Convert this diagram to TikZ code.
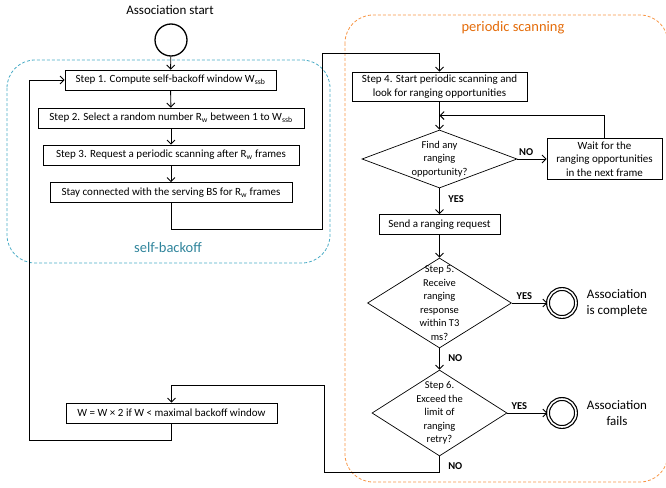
\documentclass[tikz,border=0pt]{standalone}
\usepackage{fontspec}
\setmainfont{Carlito}
\usetikzlibrary{shapes.geometric,calc,arrows.meta}
\definecolor{backoffline}{HTML}{4BACC6}
\definecolor{backofftext}{HTML}{31859C}
\definecolor{scanline}{HTML}{F79646}
\definecolor{scantext}{HTML}{E46C0A}
\begin{document}
\begin{tikzpicture}[x=1pt,y=-1pt,
	stepbox/.style={draw, fill=white, line width=0.7pt, minimum height=20pt, inner xsep=5pt, inner ysep=3pt, font=\fontsize{11}{13.5}\selectfont, align=center},
	decision/.style={draw, fill=white, diamond, line width=0.7pt, inner sep=0pt},
	dtext/.style={font=\fontsize{10.5}{13.5}\selectfont, align=center},
	arr/.style={-{Straight Barb[length=4pt,width=8pt]}, line width=0.9pt},
	lab/.style={font=\fontsize{10.5}{12}\selectfont\bfseries},
	final/.style={circle, draw, line width=1.2pt, double, double distance=1.6pt, minimum size=28pt, inner sep=0pt},
	endtext/.style={font=\fontsize{13}{16.5}\selectfont, align=center},
	region/.style={rounded corners=28pt, dash pattern=on 3pt off 2pt, line width=0.8pt}]
	\useasboundingbox (0,0) rectangle (666,487);
	\clip (0,0) rectangle (666,487);
	% regions
	\draw[region, backoffline] (7,60) rectangle (330,263);
	\node[font=\fontsize{14.5}{16}\selectfont, text=backofftext] (backofflabel) at (168,248) {self-backoff};
	\draw[region, scanline] (345,15) rectangle (668,482);
	\node[font=\fontsize{14.5}{16}\selectfont, text=scantext] (scanlabel) at (513,28) {periodic scanning};
	% start
	\node[font=\fontsize{13}{15}\selectfont] (starttext) at (170,10) {Association start};
	\node[circle, draw, line width=1.3pt, minimum size=32pt, inner sep=0pt] (start) at (171,40) {};
	% self-backoff steps
	\node[stepbox, minimum width=211pt] (s1) at (170.5,80) {Step 1. Compute self-backoff window W\textsubscript{ssb}};
	\node[stepbox, minimum width=266pt] (s2) at (171,118) {Step 2. Select a random number R\textsubscript{w} between 1 to W\textsubscript{ssb}};
	\node[stepbox, minimum width=256pt] (s3) at (171,155) {Step 3. Request a periodic scanning after R\textsubscript{w} frames};
	\node[stepbox, minimum width=242pt] (stay) at (171,192.5) {Stay connected with the serving BS for R\textsubscript{w} frames};
	\node[stepbox, minimum width=211pt] (wbox) at (171.5,413) {W = W × 2 if W < maximal backoff window};
	% periodic scanning steps
	\node[stepbox, minimum width=175pt] (s4) at (439.5,86.5) {Step 4. Start periodic scanning and\\look for ranging opportunities};
	\node[decision, minimum width=155pt, minimum height=58pt, label={[dtext]center:Find any\\ranging\\opportunity?}] (d1) at (439.5,159) {};
	\node[stepbox, minimum width=115pt] (wait) at (604.5,159) {Wait for the\\ranging opportunities\\in the next frame};
	\node[stepbox, minimum width=121pt] (send) at (439.5,224.5) {Send a ranging request};
	\node[decision, minimum width=144pt, minimum height=90pt, label={[dtext]center:Step 5.\\Receive\\ranging\\response\\within T3\\ms?}] (d2) at (439.5,303) {};
	\node[decision, minimum width=135pt, minimum height=86pt, label={[dtext]center:Step 6.\\Exceed the\\limit of\\ranging\\retry?}] (d3) at (439.5,413) {};
	% ends
	\node[final] (done) at (562,303) {};
	\node[endtext] (donetext) at (617,303) {Association\\is complete};
	\node[final] (fail) at (562,413) {};
	\node[endtext] (failtext) at (617,413) {Association\\fails};
	% connectors
	\draw[arr] (start) -- (s1);
	\draw[arr] (s1) -- (s2);
	\draw[arr] (s2) -- (s3);
	\draw[arr] (s3) -- (stay);
	\coordinate (up) at (322,53);
	\draw[arr] (stay.south) -- ++(0,26.5) -| (up) -| (s4.north);
	\draw[arr] (s4) -- (d1);
	\draw[arr] (d1.east) -- node[lab, above, pos=0.3] {NO} (wait.west);
	\coordinate (merge) at ($(s4.south)!.5!(d1.north)$);
	\draw[arr] (wait.north) |- (merge);
	\draw[arr] (d1.south) -- node[lab, right, xshift=5pt, pos=0.4] {YES} (send.north);
	\draw[arr] (send) -- (d2);
	\draw[arr] (d2.east) -- node[lab, above, pos=0.35] {YES} (done.west);
	\draw[arr] (d2.south) -- node[lab, right, xshift=5pt, pos=0.45] {NO} (d3.north);
	\draw[arr] (d3.east) -- node[lab, above, pos=0.3] {YES} (fail.west);
	\coordinate (over) at (324,385);
	\draw[arr] (d3.south) -- ++(0,16) node[lab, right, xshift=5pt, pos=0.6] {NO} -| (over) -| (wbox.north);
	\coordinate (back) at (29,80);
	\draw[arr] (wbox.south) -- ++(0,17) -| (back) -- (s1.west);
\end{tikzpicture}
\end{document}
